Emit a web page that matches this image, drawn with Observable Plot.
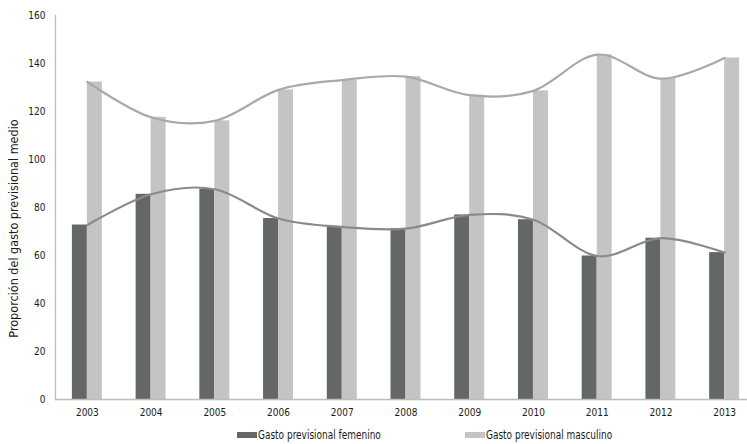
<!DOCTYPE html>
<html>
<head>
<meta charset="utf-8">
<script src="https://cdn.jsdelivr.net/npm/d3@7"></script>
<script src="https://cdn.jsdelivr.net/npm/@observablehq/plot@0.6"></script>
<style>
  html, body { margin: 0; padding: 0; background: #fff; }
  #wrap { position: relative; width: 747px; height: 444px; overflow: hidden;
          font-family: "Liberation Sans Narrow", "DejaVu Sans Condensed", sans-serif; color: #1a1a1a; }
  #wrap svg { display: block; }
  .item { position: absolute; top: 428px; height: 14px; display: flex; align-items: center;
          font-size: 12px; white-space: nowrap; }
  .sw { width: 20px; height: 6px; margin-right: 1px; flex: none; }
  .tx { display: inline-block; transform: scaleX(0.83); transform-origin: left center; }
</style>
</head>
<body>
<div id="wrap"></div>
<script>
const years = ["2003","2004","2005","2006","2007","2008","2009","2010","2011","2012","2013"];
const femenino = [72.7, 85.5, 87.6, 75.4, 71.9, 71.2, 76.9, 74.9, 59.8, 67.2, 61.2];
const masculino = [132.3, 117.6, 116.1, 129.0, 133.1, 134.5, 126.8, 128.6, 143.7, 133.7, 142.3];
const seriesNames = ["Gasto previsional femenino", "Gasto previsional masculino"];
const yTicks = [0, 20, 40, 60, 80, 100, 120, 140, 160];
const yLabel = "Proporción del gasto previsional medio";

const barColors = ["#646767", "#c3c4c3"];
const lineColors = ["#8a8a8a", "#a9a9a9"];
const axisColor = "#bdbdbd";

const rows = years.map((year, i) => ({year, fem: femenino[i], masc: masculino[i]}));

const chart = Plot.plot({
  width: 747,
  height: 424,
  marginTop: 15,
  marginBottom: 25,
  marginLeft: 55,
  marginRight: -9,
  style: {fontFamily: '"Liberation Sans Narrow", "DejaVu Sans Condensed", sans-serif', fontSize: "10px", color: "#1a1a1a", background: "#fff"},
  x: {domain: years, paddingInner: 0.53, paddingOuter: 0.265, align: 0.5, round: false, axis: null},
  y: {domain: [0, 160], axis: null},
  marks: [
    Plot.barY(rows, {x: "year", y: "fem", fill: barColors[0], insetRight: 15}),
    Plot.barY(rows, {x: "year", y: "masc", fill: barColors[1], insetLeft: 15}),
    Plot.line(rows, {x: "year", y: "masc", curve: "cardinal", stroke: lineColors[1], strokeWidth: 2.2}),
    Plot.line(rows, {x: "year", y: "fem", curve: "cardinal", stroke: lineColors[0], strokeWidth: 2.2}),
    Plot.ruleY([0], {stroke: axisColor, strokeWidth: 1.3}),
    Plot.frame({anchor: "left", stroke: axisColor, strokeWidth: 1.3}),
    Plot.axisX({tickSize: 0, tickPadding: 9, label: null, fontSize: 10}),
    Plot.axisY({ticks: yTicks, tickSize: 0, tickPadding: 10, label: null, fontSize: 10}),
    Plot.text([yLabel], {frameAnchor: "left", textAnchor: "middle", rotate: -90, dx: -42, dy: 21, fontSize: 12.5, fill: "#1a1a1a"})
  ]
});

const wrap = document.getElementById("wrap");
wrap.appendChild(chart);

const legendLefts = [237, 465];
seriesNames.forEach((name, i) => {
  const it = document.createElement("div");
  it.className = "item";
  it.style.left = legendLefts[i] + "px";
  const sw = document.createElement("span");
  sw.className = "sw";
  sw.style.background = barColors[i];
  const tx = document.createElement("span");
  tx.className = "tx";
  tx.textContent = name;
  it.appendChild(sw);
  it.appendChild(tx);
  wrap.appendChild(it);
});
</script>
</body>
</html>
